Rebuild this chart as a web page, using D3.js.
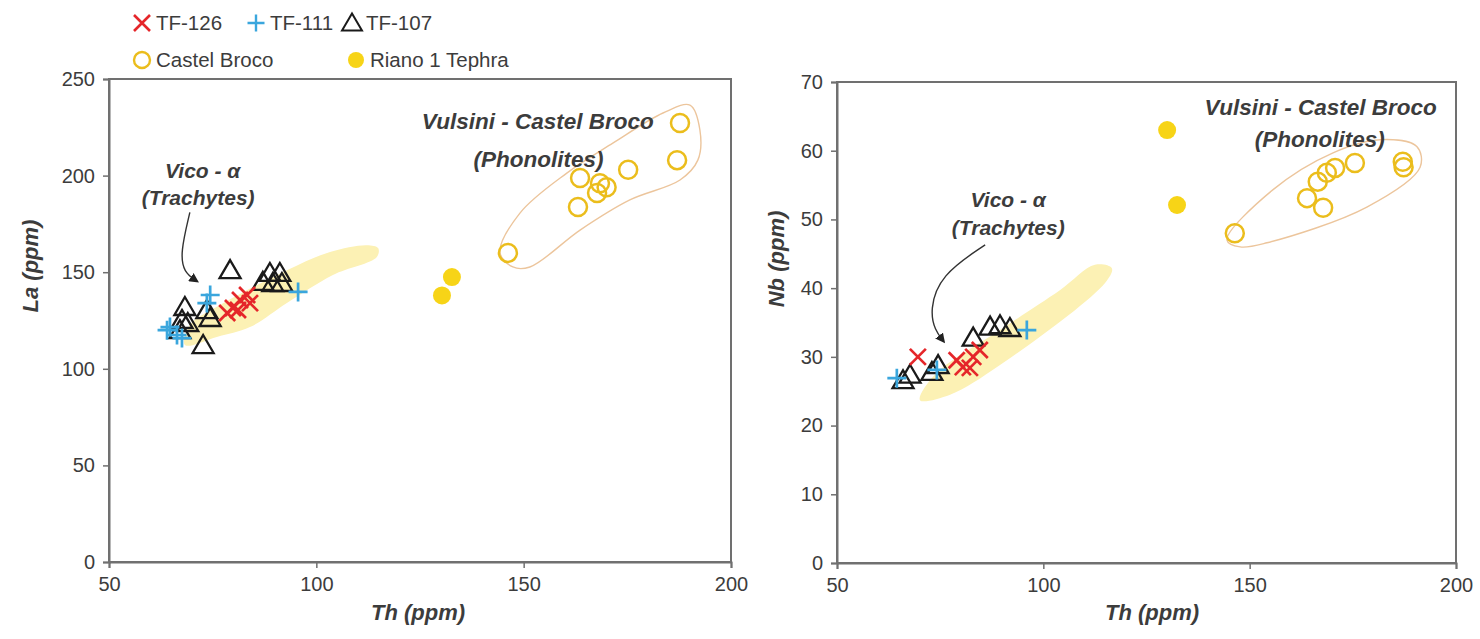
<!DOCTYPE html>
<html>
<head>
<meta charset="utf-8">
<script src="https://cdn.jsdelivr.net/npm/d3@7"></script>
<style>
  body { margin: 0; background: #fff; }
  text { font-family: "Liberation Sans", Arial, Helvetica, sans-serif; }
</style>
</head>
<body>
<svg id="chart" width="1480" height="639"></svg>
<script>
// ---- Data: [Th, La] pairs (ppm) ----
const tf126_La = [[81.6,135.6],[83.3,138.2],[79.9,131.5],[78.5,128.9],[81.1,130.4],[84,134]];
const tf111_La = [[74.4,138.2],[73.6,134],[95.6,139.8],[64.7,121.6],[66.4,117.5],[67.6,115.9],[64,120]];
const tf107_La = [[79.2,151.1],[88.8,149.6],[91.2,149.6],[87.1,145],[89.5,144.4],[91.7,144.4],
                  [68.3,132],[67.6,125.3],[69,123.7],[73.6,130.4],[74.4,126.3],[72.7,112.3],[67.1,120]];
const castelBroco_La = [[187.7,227.2],[187,208],[175.2,203],[163.6,198.8],[168.4,196],[170,194],
                        [167.7,191],[163.1,183.7],[146.2,160]];
const riano_La = [[132.7,147.5],[130.3,138]];

// ---- Data: [Th, Nb] pairs (ppm) ----
const tf126_Nb = [[69.6,30],[79,29.5],[80.5,28.5],[83,30],[84.6,31],[82.2,28.4]];
const tf111_Nb = [[96,33.9],[64.5,26.9],[74.2,28.1]];
const tf107_Nb = [[89.5,34.6],[87.1,34.4],[91.9,34.2],[83,32.8],[74.5,28.8],[73,27.8],[67.7,27.4],[66,26.6]];
const castelBroco_Nb = [[146.4,48],[163.9,53.1],[167.8,51.7],[166.5,55.5],[168.7,56.8],[170.7,57.5],
                        [175.5,58.2],[187.1,58.4],[187.3,57.6]];
const riano_Nb = [[130,63],[132.4,52.1]];

// ---- Compositional fields (outline vertices in data units) ----
const vicoField_La = [[114.9,162.5],[114.6,157.9],[104,148.6],[92.9,134.1],[84,121.6],[76,116.5],
                      [68.3,112.3],[69.5,122.7],[76.8,133],[92.9,151],[103.3,160.5],[112.2,164]];
const vicoField_Nb = [[116.6,42.9],[115,40.8],[89.5,28.8],[77.4,24.5],[70.1,23.7],[73.7,27.4],
                      [89.5,33.9],[104,39.7],[112.5,43.4]];
const vulsiniField_La = [[144.3,160],[149.1,180.6],[160.4,201.3],[171.5,216.8],[183.6,232.4],[190.1,236.5],
                         [192.5,223.6],[192,208],[187.7,197.7],[175.6,187.4],[163.6,171.8],[151.5,152.7],[147.4,152.7]];
const vulsiniField_Nb = [[144.5,47],[155.6,54.3],[170.2,59.7],[181.6,61.6],[190.5,60.6],[191.3,57.6],
                         [178.4,51.8],[154.2,46.6],[147.7,46]];

// ---- Axis ticks ----
const thTicks = [50, 100, 150, 200];
const laTicks = [0, 50, 100, 150, 200, 250];
const nbTicks = [0, 10, 20, 30, 40, 50, 60, 70];

// ---- Annotation anchors (data units) ----
const vicoArrow_La = [[69.5,181],[67.2,160],[68.0,150],[71.3,145.2]];
const vicoArrow_Nb = [[85.9,46.3],[75,41.9],[72.5,36.8],[73.7,33.9],[75.9,32.2]];

const svg = d3.select("#chart");

const COLORS = {
  tf126: "#e5262a",
  tf111: "#3aa6dd",
  tf107: "#1a1a1a",
  castel: "#ebbd1c",
  riano: "#f7d417",
  field: "#fcf1b4",
  envelope: "#ecc59c",
  axis: "#707070",
  text: "#3c3c3c"
};

function crossPath(s) { return `M${-s},${-s}L${s},${s}M${-s},${s}L${s},${-s}`; }
function plusPath(s) { return `M${-s},0L${s},0M0,${-s}L0,${s}`; }
function triPath(s) { return `M0,${-s}L${s*1.05},${s*0.8}L${-s*1.05},${s*0.8}Z`; }

function drawPanel(cfg) {
  const x = d3.scaleLinear().domain([50, 200]).range(cfg.xRange);
  const y = d3.scaleLinear().domain(cfg.yDomain).range(cfg.yRange);
  const g = svg.append("g");

  // frame
  g.append("rect")
    .attr("x", cfg.xRange[0]).attr("y", cfg.yRange[1])
    .attr("width", cfg.xRange[1] - cfg.xRange[0])
    .attr("height", cfg.yRange[0] - cfg.yRange[1])
    .attr("fill", "none").attr("stroke", COLORS.axis).attr("stroke-width", 2);

  // axes
  const xAxis = d3.axisBottom(x).tickValues(thTicks).tickSize(6).tickPadding(9).tickFormat(d3.format("d"));
  const yAxis = d3.axisLeft(y).tickValues(cfg.yTicks).tickSize(6).tickPadding(8).tickFormat(d3.format("d"));
  const gx = g.append("g").attr("transform", `translate(0,${cfg.yRange[0]})`).call(xAxis);
  const gy = g.append("g").attr("transform", `translate(${cfg.xRange[0]},0)`).call(yAxis);
  [gx, gy].forEach(a => {
    a.select(".domain").attr("stroke", COLORS.axis).attr("stroke-width", 2);
    a.selectAll(".tick line").attr("stroke", COLORS.axis).attr("stroke-width", 1.5);
    a.selectAll(".tick text").attr("fill", COLORS.text)
      .style("font-family", '"Liberation Sans", Arial, sans-serif').style("font-size", "20px");
  });

  // axis titles
  g.append("text").attr("x", cfg.xTitle[0]).attr("y", cfg.xTitle[1])
    .attr("text-anchor", "middle").attr("fill", COLORS.text)
    .style("font-size", "22px").style("font-weight", "bold").style("font-style", "italic")
    .text("Th (ppm)");
  g.append("text").attr("transform", `translate(${cfg.yTitle[0]},${cfg.yTitle[1]}) rotate(-90)`)
    .attr("text-anchor", "middle").attr("fill", COLORS.text)
    .style("font-size", "22px").style("font-weight", "bold").style("font-style", "italic")
    .text(cfg.yLabel);

  // fields
  const closed = d3.line().x(d => x(d[0])).y(d => y(d[1])).curve(d3.curveCatmullRomClosed.alpha(0.5));
  g.append("path").attr("d", closed(cfg.vico)).attr("fill", COLORS.field).attr("stroke", "none");
  g.append("path").attr("d", closed(cfg.vulsini)).attr("fill", "none")
    .attr("stroke", COLORS.envelope).attr("stroke-width", 1.4);

  // Castel Broco (open circles) and Riano 1 Tephra (filled circles)
  g.selectAll(".cb").data(cfg.castel).join("circle")
    .attr("cx", d => x(d[0])).attr("cy", d => y(d[1])).attr("r", 9)
    .attr("fill", "none").attr("stroke", COLORS.castel).attr("stroke-width", 2.5);
  g.selectAll(".ri").data(cfg.riano).join("circle")
    .attr("cx", d => x(d[0])).attr("cy", d => y(d[1])).attr("r", 9)
    .attr("fill", COLORS.riano);

  // TF-107 triangles
  g.selectAll(".t107").data(cfg.tf107).join("path")
    .attr("transform", d => `translate(${x(d[0])},${y(d[1])})`)
    .attr("d", triPath(10)).attr("fill", "none")
    .attr("stroke", COLORS.tf107).attr("stroke-width", 2.3).attr("stroke-linejoin", "miter");
  // TF-111 plus
  g.selectAll(".t111").data(cfg.tf111).join("path")
    .attr("transform", d => `translate(${x(d[0])},${y(d[1])})`)
    .attr("d", plusPath(9.5)).attr("stroke", COLORS.tf111).attr("stroke-width", 2.7);
  // TF-126 cross
  g.selectAll(".t126").data(cfg.tf126).join("path")
    .attr("transform", d => `translate(${x(d[0])},${y(d[1])})`)
    .attr("d", crossPath(8)).attr("stroke", COLORS.tf126).attr("stroke-width", 2.7);

  // Vico arrow
  const arrow = d3.line().x(d => x(d[0])).y(d => y(d[1])).curve(d3.curveBasis);
  g.append("path").attr("d", arrow(cfg.arrow)).attr("fill", "none")
    .attr("stroke", "#333").attr("stroke-width", 1.4).attr("marker-end", "url(#head)");

  // annotations
  const ann = (t, d, size) => g.append("text")
    .attr("x", x(d[0])).attr("y", y(d[1])).attr("text-anchor", "middle").attr("fill", COLORS.text)
    .style("font-size", size + "px").style("font-weight", "bold").style("font-style", "italic").text(t);
  cfg.labels.forEach(l => ann(l[0], l[1], l[2]));
}

// arrowhead definition
svg.append("defs").append("marker").attr("id", "head")
  .attr("viewBox", "0 0 10 10").attr("refX", 8).attr("refY", 5)
  .attr("markerWidth", 7).attr("markerHeight", 7).attr("orient", "auto")
  .append("path").attr("d", "M0,0L10,5L0,10Z").attr("fill", "#222");

drawPanel({
  xRange: [109, 731], yRange: [562, 79], yDomain: [0, 250], yTicks: laTicks, yLabel: "La (ppm)",
  xTitle: [418, 620], yTitle: [38, 266],
  vico: vicoField_La, vulsini: vulsiniField_La,
  castel: castelBroco_La, riano: riano_La, tf107: tf107_La, tf111: tf111_La, tf126: tf126_La,
  arrow: vicoArrow_La,
  labels: [["Vico - α", [72.6, 199], 21], ["(Trachytes)", [71.5, 185], 21],
           ["Vulsini - Castel Broco", [153.4, 224], 22.5], ["(Phonolites)", [153.6, 204.5], 22.5]]
});

drawPanel({
  xRange: [837, 1456], yRange: [563, 82], yDomain: [0, 70], yTicks: nbTicks, yLabel: "Nb (ppm)",
  xTitle: [1152, 620], yTitle: [784, 259],
  vico: vicoField_Nb, vulsini: vulsiniField_Nb,
  castel: castelBroco_Nb, riano: riano_Nb, tf107: tf107_Nb, tf111: tf111_Nb, tf126: tf126_Nb,
  arrow: vicoArrow_Nb,
  labels: [["Vico - α", [91.5, 51.8], 21], ["(Trachytes)", [91.5, 47.7], 21],
           ["Vulsini - Castel Broco", [167.2, 65.2], 22.5], ["(Phonolites)", [167, 60.5], 22.5]]
});

// ---- Legend ----
const legend = svg.append("g");
const legendItems = [
  { label: "TF-126", x: 142, y: 23, shape: "cross" },
  { label: "TF-111", x: 256, y: 23, shape: "plus" },
  { label: "TF-107", x: 352, y: 23, shape: "tri" },
  { label: "Castel Broco", x: 142, y: 60, shape: "open" },
  { label: "Riano 1 Tephra", x: 356, y: 60, shape: "filled" }
];
legendItems.forEach(it => {
  const s = legend.append("g").attr("transform", `translate(${it.x},${it.y})`);
  if (it.shape === "cross") s.append("path").attr("d", crossPath(8)).attr("stroke", COLORS.tf126).attr("stroke-width", 2.6);
  if (it.shape === "plus") s.append("path").attr("d", plusPath(8.5)).attr("stroke", COLORS.tf111).attr("stroke-width", 2.4);
  if (it.shape === "tri") s.append("path").attr("d", triPath(9.5)).attr("fill", "none").attr("stroke", COLORS.tf107).attr("stroke-width", 2);
  if (it.shape === "open") s.append("circle").attr("r", 8).attr("fill", "none").attr("stroke", COLORS.castel).attr("stroke-width", 2.4);
  if (it.shape === "filled") s.append("circle").attr("r", 8).attr("fill", COLORS.riano);
  legend.append("text").attr("x", it.x + 14).attr("y", it.y).attr("dy", "0.36em")
    .attr("fill", COLORS.text).style("font-size", "20.5px").text(it.label);
});
</script>
</body>
</html>
